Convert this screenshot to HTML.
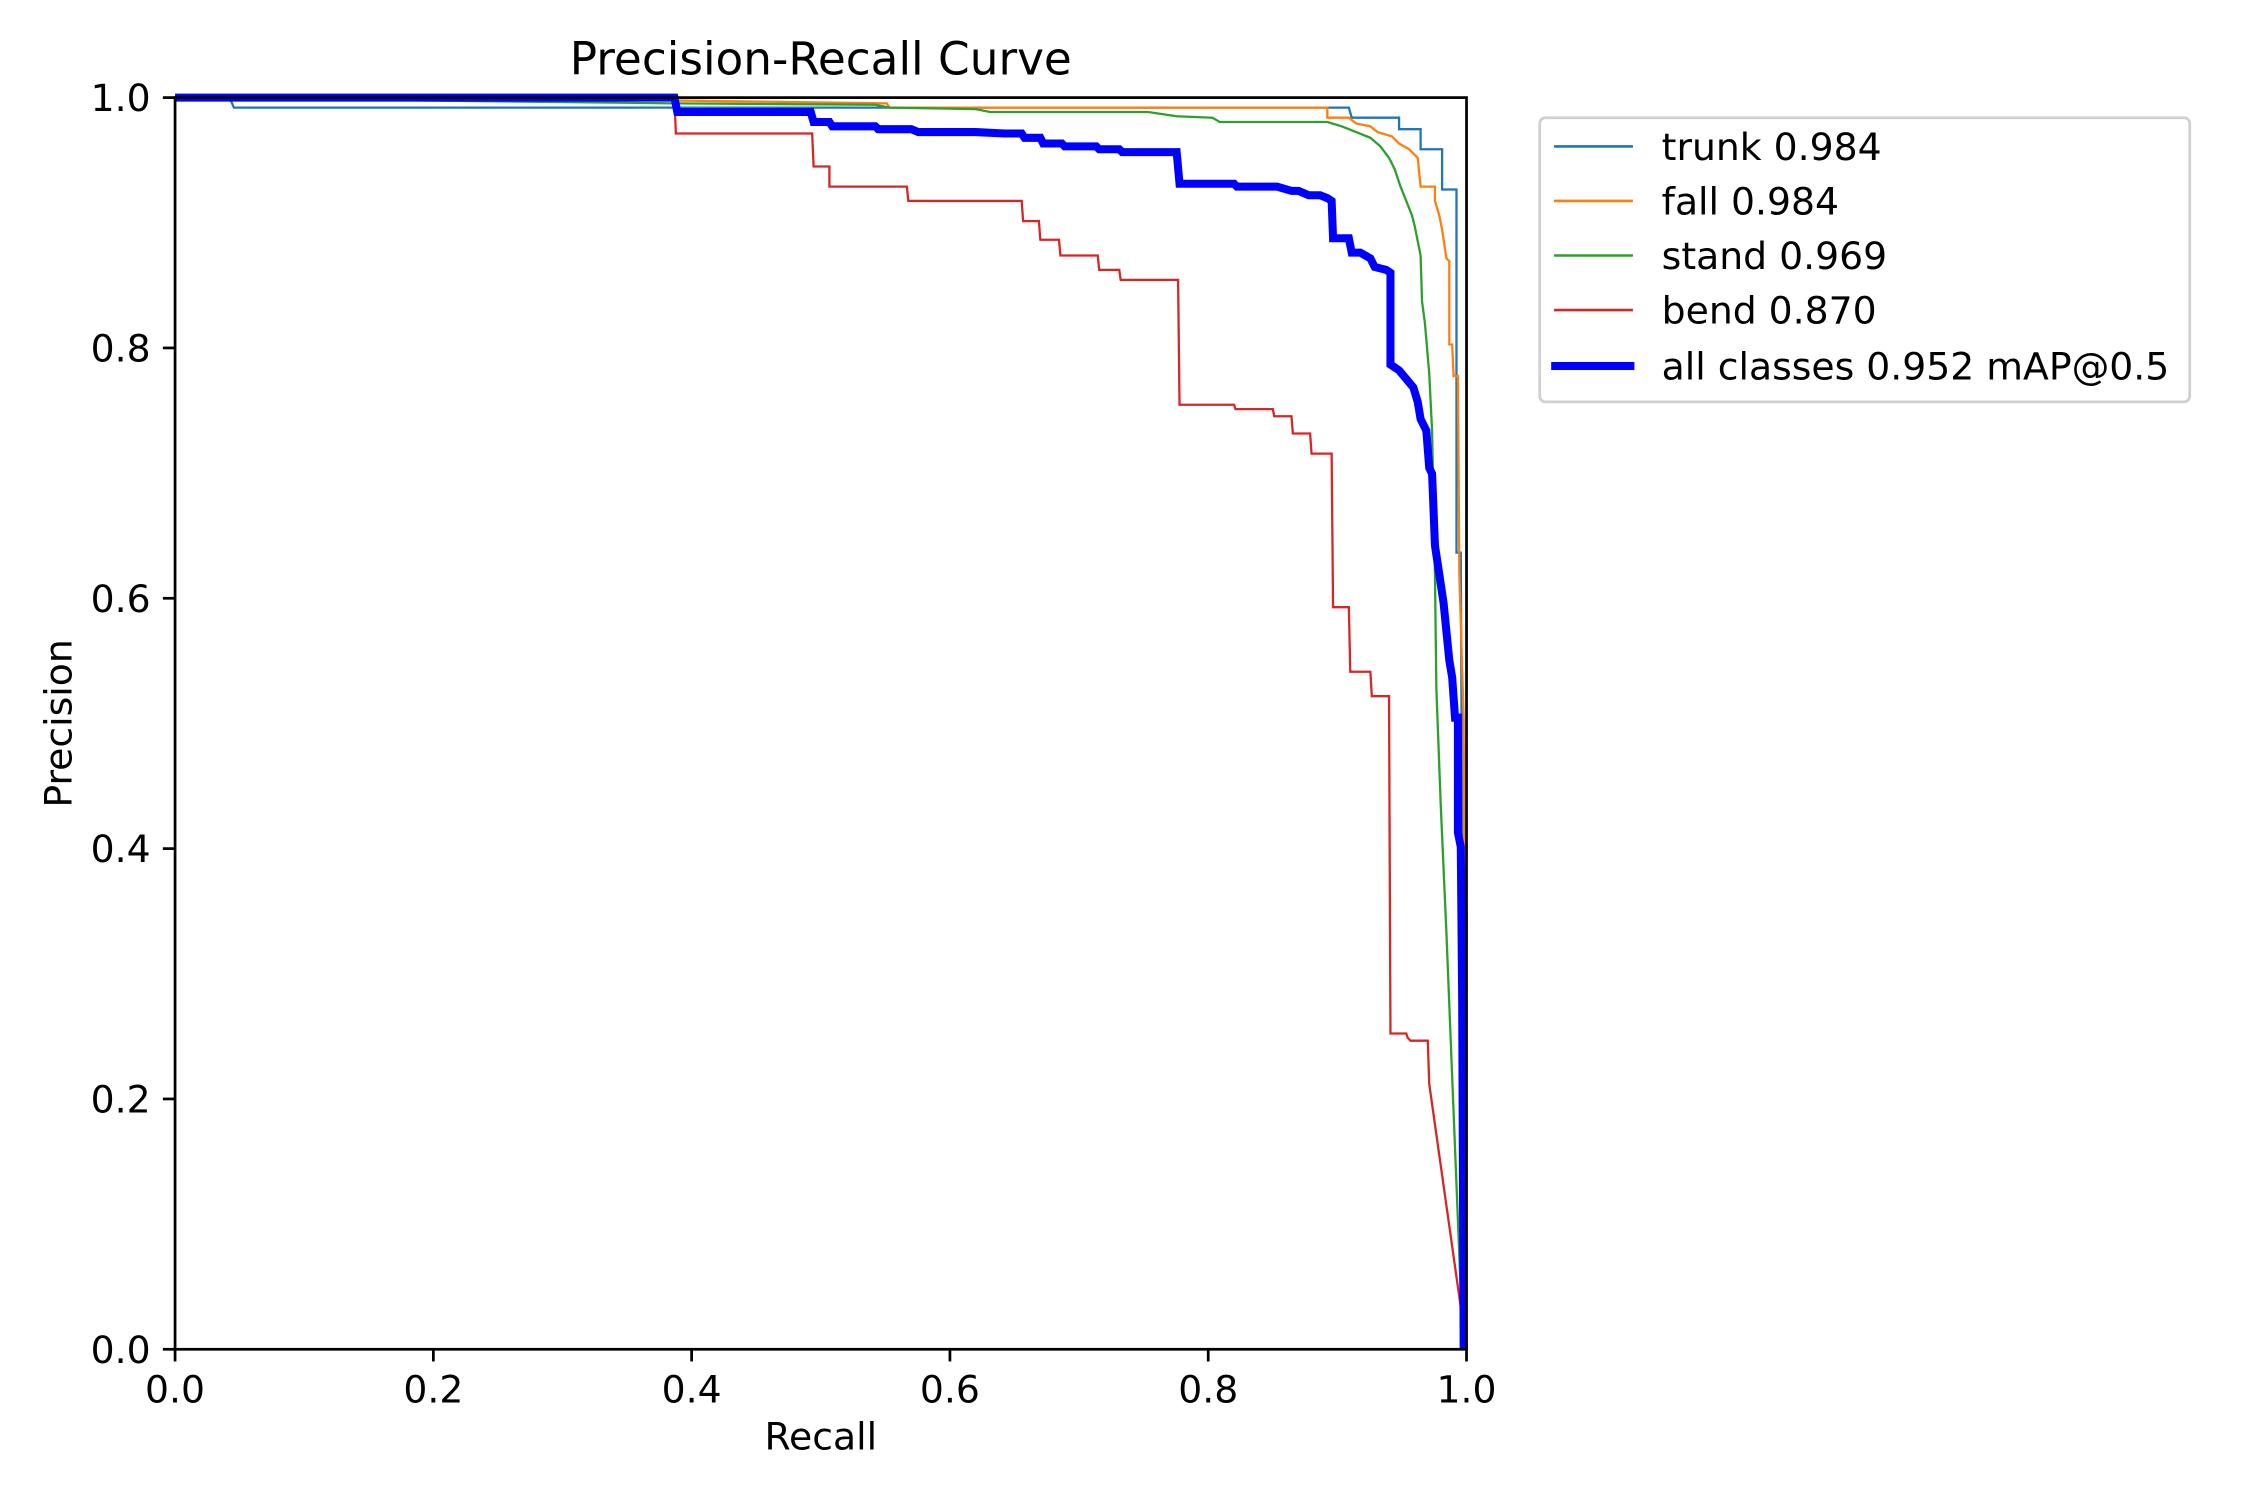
<!DOCTYPE html>
<html><head><meta charset="utf-8"><style>html,body{margin:0;padding:0;background:#fff;}svg{display:block;}</style></head>
<body>
<svg width="2250" height="1500" viewBox="0 0 1568 1045" preserveAspectRatio="none" xmlns="http://www.w3.org/2000/svg" font-family="'DejaVu Sans','Liberation Sans',sans-serif">
<rect width="1568" height="1045" fill="#fff"/>
<g fill="none" stroke-linejoin="miter">
<polyline stroke="#1f77b4" stroke-width="1.6" points="122,68 160,68 163,75 940,75 942,82 975,82 975,90 990,90 990,104 1005,104 1005,132 1015,132 1015,385 1018,385 1019,600 1022,940"/>
<polyline stroke="#ff7f0e" stroke-width="1.6" points="122,68 470,70 618,72 620,75 925,75 925,82 940,82 945,86 955,88 960,92 970,95 975,100 982,104 988,110 990,130 1000,130 1000,140 1003,150 1005,160 1008,180 1010,182 1010,240 1012,240 1013,262 1016,262 1017,400 1020,500 1022,940"/>
<polyline stroke="#2ca02c" stroke-width="1.6" points="122,68 470,72 610,73 620,75 680,76 690,78 800,78 820,81 845,82 850,85 925,85 935,88 945,92 955,96 962,102 968,110 972,118 976,130 980,140 984,150 986,158 988,168 990,178 991,210 993,225 996,260 998,300 1000,400 1001,480 1004,560 1008,650 1012,750 1016,850 1018,900 1021,940"/>
<polyline stroke="#d62728" stroke-width="1.6" points="122,68 470,68 471,93 566,93 567,116 578,116 578,130 632,130 633,140 712,140 713,154 724,154 725,167 738,167 739,178 765,178 766,188 780,188 781,195 821,195 822,282 860,282 861,285 887,285 888,290 900,290 901,302 913,302 914,316 928,316 929,423 940,423 941,468 955,468 956,485 968,485 969,720 980,720 981,723 983,725 995,725 996,755 1020,925 1022,940"/>
<polyline stroke="#0000ff" stroke-width="5.6" points="122,68 470,68 472,78 565,78 567,85 578,85 580,88 610,88 612,90 635,90 640,92 680,92 700,93 712,93 714,96 725,96 727,100 740,100 742,102 764,102 766,104 780,104 782,106 820,106 822,128 860,128 862,130 890,130 900,133 905,133 912,136 920,136 925,138 928,140 929,166 940,166 942,176 948,176 955,180 958,186 966,188 969,190 969,254 975,258 980,264 985,270 988,280 990,292 994,300 996,326 998,330 1000,380 1003,400 1006,420 1008,440 1010,460 1012,472 1014,500 1016,500 1016,580 1018,590 1019,700 1020,940"/>
</g>
<rect x="122" y="68" width="900" height="872" fill="none" stroke="#000" stroke-width="1.9"/>
<g stroke="#000" stroke-width="1.9">
<line x1="122" y1="940" x2="122" y2="948.5"/><line x1="302" y1="940" x2="302" y2="948.5"/><line x1="482" y1="940" x2="482" y2="948.5"/><line x1="662" y1="940" x2="662" y2="948.5"/><line x1="842" y1="940" x2="842" y2="948.5"/><line x1="1022" y1="940" x2="1022" y2="948.5"/>
<line x1="113.5" y1="940" x2="122" y2="940"/><line x1="113.5" y1="765.6" x2="122" y2="765.6"/><line x1="113.5" y1="591.2" x2="122" y2="591.2"/><line x1="113.5" y1="416.8" x2="122" y2="416.8"/><line x1="113.5" y1="242.4" x2="122" y2="242.4"/><line x1="113.5" y1="68" x2="122" y2="68"/>
</g>
<g font-size="26.3" fill="#000">
<g text-anchor="middle">
<text x="122" y="977">0.0</text><text x="302" y="977">0.2</text><text x="482" y="977">0.4</text><text x="662" y="977">0.6</text><text x="842" y="977">0.8</text><text x="1022" y="977">1.0</text>
</g>
<g text-anchor="end">
<text x="105" y="949.5">0.0</text><text x="105" y="775">0.2</text><text x="105" y="600.7">0.4</text><text x="105" y="426.3">0.6</text><text x="105" y="252">0.8</text><text x="105" y="77.5">1.0</text>
</g>
<text x="572" y="1010" text-anchor="middle">Recall</text>
<text transform="translate(50,504) rotate(-90)" text-anchor="middle">Precision</text>
</g>
<text x="572" y="52" text-anchor="middle" font-size="31.6">Precision-Recall Curve</text>
<rect x="1073" y="82" width="453" height="198" rx="4" fill="#fff" stroke="#d0d0d0" stroke-width="1.9"/>
<g stroke-width="1.8">
<line x1="1083" y1="102" x2="1138" y2="102" stroke="#1f77b4"/>
<line x1="1083" y1="140" x2="1138" y2="140" stroke="#ff7f0e"/>
<line x1="1083" y1="178" x2="1138" y2="178" stroke="#2ca02c"/>
<line x1="1083" y1="216" x2="1138" y2="216" stroke="#d62728"/>
<line x1="1081" y1="255" x2="1139" y2="255" stroke="#0000ff" stroke-width="5.6"/>
</g>
<g font-size="26.3" fill="#000">
<text x="1158" y="111.5">trunk 0.984</text>
<text x="1158" y="149.5">fall 0.984</text>
<text x="1158" y="187.5">stand 0.969</text>
<text x="1158" y="225.5">bend 0.870</text>
<text x="1158" y="264.5">all classes 0.952 mAP@0.5</text>
</g>
</svg>
</body></html>
